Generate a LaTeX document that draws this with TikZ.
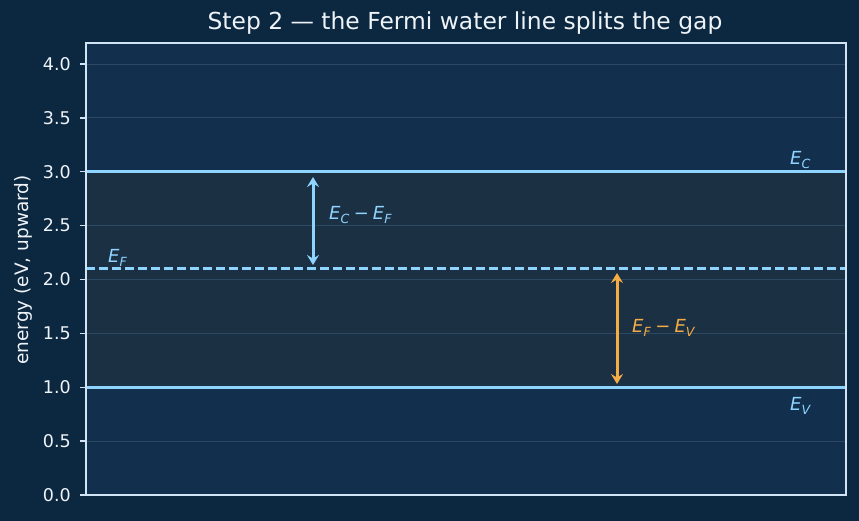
\documentclass[tikz,border=0pt]{standalone}
\usepackage{fontspec}
\setmainfont{DejaVu Sans}
\usetikzlibrary{arrows.meta}
\definecolor{outerbg}{HTML}{0C2840}
\definecolor{facebg}{HTML}{12304E}
\definecolor{gapbg}{HTML}{1B3043}
\definecolor{spine}{HTML}{D0E4F5}
\definecolor{gridc}{HTML}{2C4862}
\definecolor{band}{HTML}{8FD3FF}
\definecolor{orng}{HTML}{F5AC45}
\definecolor{txt}{HTML}{EEF3F8}
\newcommand{\sym}[2]{\textit{#1}\textsubscript{\textit{#2}}}
\newcommand{\mminus}{\hspace{4pt}−\hspace{4pt}}
\tikzset{
  arrowtip/.tip={Stealth[length=10pt,width=12pt,inset=3.5pt]},
}
\begin{document}
\begin{tikzpicture}[x=1pt,y=-1pt,
  ticklab/.style={anchor=east,text=txt,font=\fontsize{17.5}{18}\selectfont,inner sep=0pt},
  bandlab/.style={text=band,font=\fontsize{18}{18}\selectfont,inner sep=0pt},
  orlab/.style={text=orng,font=\fontsize{18}{18}\selectfont,inner sep=0pt},
  gapline/.style={gridc,line width=0.8pt}]
\useasboundingbox (0,0) rectangle (859,521);
\fill[outerbg] (0,0) rectangle (859,521);
\fill[facebg] (86,43) rectangle (846,495);
\fill[gapbg] (86,171.75) rectangle (846,387.25);
% grid
\foreach \v in {0.5,1.5,2.0,2.5,3.5,4.0} {
  \draw[gapline] (86,{495-107.75*\v}) -- (846,{495-107.75*\v});
}
% ticks and labels
\foreach \v/\l in {0/0.0,0.5/0.5,1/1.0,1.5/1.5,2/2.0,2.5/2.5,3/3.0,3.5/3.5,4/4.0} {
  \draw[spine,line width=1.3pt] (80,{495-107.75*\v}) -- (86,{495-107.75*\v});
  \node[ticklab] at (71,{495-107.75*\v}) {\l};
}
% bands
\coordinate (ecl) at (86,171.75); \coordinate (ecr) at (846,171.75);
\coordinate (efl) at (86,268.7); \coordinate (efr) at (846,268.7);
\coordinate (evl) at (86,387.25); \coordinate (evr) at (846,387.25);
\draw[band,line width=3.4pt] (ecl) -- (ecr);
\draw[band,line width=2.4pt,dash pattern=on 9pt off 4pt] (efl) -- (efr);
\draw[band,line width=3.4pt] (evl) -- (evr);
% spines
\draw[spine,line width=1.5pt] (86,43) rectangle (846,495);
% arrows
\coordinate (a1t) at (313,177); \coordinate (a1b) at (313,265);
\draw[band,line width=3pt,arrowtip-arrowtip] (a1t) -- (a1b);
\coordinate (a2t) at (617,273); \coordinate (a2b) at (617,384);
\draw[orng,line width=3pt,arrowtip-arrowtip] (a2t) -- (a2b);
% labels
\node[bandlab,anchor=west] (l1) at (329,215) {\sym{E}{C}\mminus\sym{E}{F}};
\node[orlab,anchor=west] (l2) at (632,328) {\sym{E}{F}\mminus\sym{E}{V}};
\node[bandlab,anchor=west] (lc) at (790,160) {\sym{E}{C}};
\node[bandlab,anchor=west] (lv) at (790,406) {\sym{E}{V}};
\node[bandlab,anchor=west] (lf) at (108,258) {\sym{E}{F}};
% title and axis label
\node[text=txt,font=\fontsize{23.4}{24}\selectfont] (title) at (465,23) {Step 2 — the Fermi water line splits the gap};
\node[text=txt,font=\fontsize{18.5}{19}\selectfont,rotate=90] (ylab) at (23,270) {energy (eV, upward)};
\end{tikzpicture}
\end{document}
